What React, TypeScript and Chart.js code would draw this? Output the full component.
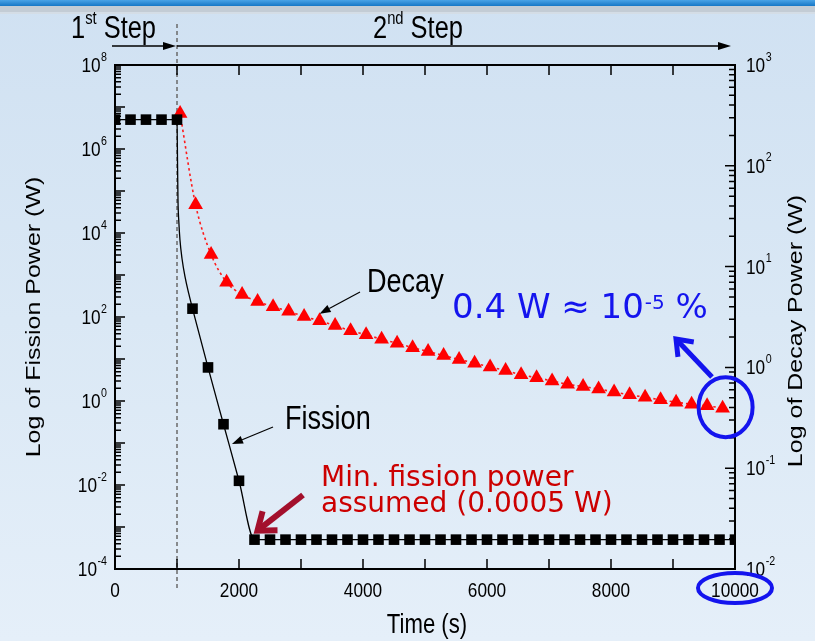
import React, { useEffect, useRef } from "react";
import { Chart, registerables } from "chart.js";
Chart.register(...registerables);

// ---------------- data ----------------
const fissionTimes = [0, 250, 500, 750, 1000, 1250, 1500, 1750, 2000, 2250, 2500, 2750, 3000, 3250, 3500, 3750, 4000, 4250, 4500, 4750, 5000, 5250, 5500, 5750, 6000, 6250, 6500, 6750, 7000, 7250, 7500, 7750, 8000, 8250, 8500, 8750, 9000, 9250, 9500, 9750, 10000];
const fissionPower = [5e6, 5e6, 5e6, 5e6, 5e6, 158, 6.3, 0.28, 0.0126, 5e-4, 5e-4, 5e-4, 5e-4, 5e-4, 5e-4, 5e-4, 5e-4, 5e-4, 5e-4, 5e-4, 5e-4, 5e-4, 5e-4, 5e-4, 5e-4, 5e-4, 5e-4, 5e-4, 5e-4, 5e-4, 5e-4, 5e-4, 5e-4, 5e-4, 5e-4, 5e-4, 5e-4, 5e-4, 5e-4, 5e-4, 5e-4];

const fissionCurveTimes = [0, 1000, 1004, 1008, 1016, 1030, 1048, 1080, 1129, 1190, 1250, 1500, 1750, 2000, 2250, 10000];
const fissionCurvePower = [5e6, 5e6, 2e6, 5.5e5, 6e4, 1.8e4, 6.8e3, 2.5e3, 910, 360, 158, 6.3, 0.28, 0.0126, 5e-4, 5e-4];

const decayTimes = [1050, 1300, 1550, 1800, 2050, 2300, 2550, 2800, 3050, 3300, 3550, 3800, 4050, 4300, 4550, 4800, 5050, 5300, 5550, 5800, 6050, 6300, 6550, 6800, 7050, 7300, 7550, 7800, 8050, 8300, 8550, 8800, 9050, 9300, 9550, 9800];
const decayPower = [330, 41, 13.2, 7.0, 5.3, 4.5, 4.0, 3.6, 3.2, 2.9, 2.6, 2.31, 2.11, 1.9, 1.74, 1.57, 1.44, 1.31, 1.2, 1.1, 1.01, 0.93, 0.845, 0.79, 0.735, 0.68, 0.645, 0.61, 0.57, 0.535, 0.505, 0.477, 0.452, 0.432, 0.416, 0.394];

const xTickLabels = [0, 2000, 4000, 6000, 8000, 10000];
const xTickMarks = [0, 1000, 2000, 3000, 4000, 5000, 6000, 7000, 8000, 9000, 10000];
const leftExponents = [8, 6, 4, 2, 0, -2, -4];
const rightExponents = [3, 2, 1, 0, -1, -2];

const X_MIN = 0, X_MAX = 10000;
const Y_MIN = 1e-4, Y_MAX = 1e8;
const Y2_MIN = 1e-2, Y2_MAX = 1e3;

// ---------------- drawing helpers ----------------
const SANS = '"Liberation Sans", Arial, sans-serif';
const VERD = '"DejaVu Sans", Verdana, sans-serif';
const SQ = 0.82;

function sText(ctx: any, s: string, x: number, y: number, size: number, align: string = "left", color = "#000", sq = SQ, family = SANS) {
  ctx.save();
  ctx.font = `${size}px ${family}`;
  ctx.fillStyle = color;
  ctx.textAlign = align;
  ctx.textBaseline = "alphabetic";
  ctx.translate(x, y);
  ctx.scale(sq, 1);
  ctx.fillText(s, 0, 0);
  ctx.restore();
}
function sWidth(ctx: any, s: string, size: number, sq = SQ, family = SANS) {
  ctx.save();
  ctx.font = `${size}px ${family}`;
  const w = ctx.measureText(s).width * sq;
  ctx.restore();
  return w;
}
function vText(ctx: any, s: string, cx: number, cy: number, size: number) {
  ctx.save();
  ctx.font = `${size}px ${SANS}`;
  ctx.fillStyle = "#000";
  ctx.textAlign = "center";
  ctx.textBaseline = "middle";
  ctx.translate(cx, cy);
  ctx.rotate(-Math.PI / 2);
  ctx.scale(1, SQ);
  ctx.fillText(s, 0, 0);
  ctx.restore();
}
function filledArrow(ctx: any, x1: number, y1: number, x2: number, y2: number, color: string, lw: number, hl: number, hw: number) {
  const a = Math.atan2(y2 - y1, x2 - x1);
  const c = Math.cos(a), s = Math.sin(a);
  const bx = x2 - hl * c, by = y2 - hl * s;
  ctx.save();
  ctx.strokeStyle = color;
  ctx.fillStyle = color;
  ctx.lineWidth = lw;
  ctx.setLineDash([]);
  ctx.beginPath();
  ctx.moveTo(x1, y1);
  ctx.lineTo(bx, by);
  ctx.stroke();
  ctx.beginPath();
  ctx.moveTo(x2, y2);
  ctx.lineTo(bx - hw * s, by + hw * c);
  ctx.lineTo(bx + hw * s, by - hw * c);
  ctx.closePath();
  ctx.fill();
  ctx.restore();
}
function openArrow(ctx: any, x1: number, y1: number, x2: number, y2: number, color: string, lw: number, hl: number) {
  const a = Math.atan2(y2 - y1, x2 - x1);
  ctx.save();
  ctx.strokeStyle = color;
  ctx.lineWidth = lw;
  ctx.lineCap = "butt";
  ctx.lineJoin = "miter";
  ctx.beginPath();
  ctx.moveTo(x1, y1);
  ctx.lineTo(x2 - Math.cos(a) * lw * 0.6, y2 - Math.sin(a) * lw * 0.6);
  ctx.stroke();
  const a1 = a + Math.PI - 0.65, a2 = a + Math.PI + 0.65;
  ctx.beginPath();
  ctx.moveTo(x2 + Math.cos(a1) * hl, y2 + Math.sin(a1) * hl);
  ctx.lineTo(x2, y2);
  ctx.lineTo(x2 + Math.cos(a2) * hl, y2 + Math.sin(a2) * hl);
  ctx.stroke();
  ctx.restore();
}
function logTicks(min: number, max: number) {
  const out: { v: number; major: boolean }[] = [];
  const e0 = Math.round(Math.log10(min));
  const e1 = Math.round(Math.log10(max));
  for (let e = e0; e <= e1; e++) {
    for (let m = 1; m <= 9; m++) {
      const v = m * Math.pow(10, e);
      if (v >= min * 0.999 && v <= max * 1.001) out.push({ v, major: m === 1 });
    }
  }
  return out;
}
function powLabel(ctx: any, exp: number, x: number, y: number, align: "left" | "right") {
  const base = "10";
  const sup = String(exp);
  const bs = 21, ss = 13;
  const wb = sWidth(ctx, base, bs);
  const ws = sWidth(ctx, sup, ss);
  let bx = x;
  if (align === "right") bx = x - ws - wb - 0.5;
  sText(ctx, base, bx, y + 7, bs);
  sText(ctx, sup, bx + wb + 0.5, y - 4.5, ss);
}

// ---------------- plugin ----------------
const decor = {
  id: "decor",
  beforeDraw(chart: any) {
    const ctx = chart.ctx;
    const w = chart.width, h = chart.height;
    ctx.save();
    const g = ctx.createLinearGradient(0, 0, 0, h);
    g.addColorStop(0, "#d0e1f2");
    g.addColorStop(0.5, "#dae8f5");
    g.addColorStop(1, "#e5eff9");
    ctx.fillStyle = g;
    ctx.fillRect(0, 0, w, h);
    const tg = ctx.createLinearGradient(0, 0, 0, 6);
    tg.addColorStop(0, "#4aa3e6");
    tg.addColorStop(1, "#1677c6");
    ctx.fillStyle = tg;
    ctx.fillRect(0, 0, w, 6);
    ctx.fillStyle = "#c3ccd5";
    ctx.fillRect(0, 6, w, 7);
    ctx.fillStyle = "#d4dde6";
    ctx.fillRect(0, 12, w, 2);
    ctx.restore();
  },
  beforeDatasetsDraw(chart: any) {
    const ctx = chart.ctx;
    const xs = chart.scales.x;
    const x = xs.getPixelForValue(1000);
    ctx.save();
    ctx.strokeStyle = "#6a6a6a";
    ctx.lineWidth = 1.5;
    ctx.setLineDash([4, 3]);
    ctx.beginPath();
    ctx.moveTo(x, 24);
    ctx.lineTo(x, 590);
    ctx.stroke();
    ctx.restore();
  },
  afterDatasetsDraw(chart: any) {
    const ctx = chart.ctx;
    const { left, right, top, bottom } = chart.chartArea;
    const xs = chart.scales.x, ys = chart.scales.y, y2 = chart.scales.y2;

    ctx.save();
    ctx.strokeStyle = "#000";
    ctx.lineWidth = 2;
    ctx.setLineDash([]);
    ctx.strokeRect(left, top, right - left, bottom - top);

    // x ticks (inward, top and bottom)
    ctx.lineWidth = 1.5;
    ctx.beginPath();
    xTickMarks.forEach((t) => {
      const px = xs.getPixelForValue(t);
      ctx.moveTo(px, bottom);
      ctx.lineTo(px, bottom - 10);
      ctx.moveTo(px, top);
      ctx.lineTo(px, top + 10);
    });
    // left y ticks
    logTicks(Y_MIN, Y_MAX).forEach((t) => {
      const py = ys.getPixelForValue(t.v);
      ctx.moveTo(left, py);
      ctx.lineTo(left + (t.major ? 10 : 6), py);
    });
    // right y ticks
    logTicks(Y2_MIN, Y2_MAX).forEach((t) => {
      const py = y2.getPixelForValue(t.v);
      ctx.moveTo(right, py);
      ctx.lineTo(right - (t.major ? 10 : 6), py);
    });
    ctx.stroke();
    ctx.restore();

    // tick labels
    xTickLabels.forEach((t) => sText(ctx, String(t), xs.getPixelForValue(t), bottom + 28, 21, "center"));
    leftExponents.forEach((e) => powLabel(ctx, e, left - 8, ys.getPixelForValue(Math.pow(10, e)), "right"));
    rightExponents.forEach((e) => powLabel(ctx, e, right + 11, y2.getPixelForValue(Math.pow(10, e)), "left"));

    // axis titles
    vText(ctx, "Log of Fission Power (W)", 34, (top + bottom) / 2, 25);
    vText(ctx, "Log of Decay Power (W)", 796, 331, 25);
    sText(ctx, "Time (s)", (left + right) / 2 + 2, 633, 27, "center");

    // step labels and arrows
    const x1000 = xs.getPixelForValue(1000);
    let sx = 71;
    sText(ctx, "1", sx, 38, 31);
    sx += sWidth(ctx, "1", 31);
    sText(ctx, "st", sx, 24, 18);
    sx += sWidth(ctx, "st", 18) + sWidth(ctx, " ", 31);
    sText(ctx, "Step", sx, 38, 31);
    let tx = 373;
    sText(ctx, "2", tx, 38, 31);
    tx += sWidth(ctx, "2", 31);
    sText(ctx, "nd", tx, 24, 18);
    tx += sWidth(ctx, "nd", 18) + sWidth(ctx, " ", 31);
    sText(ctx, "Step", tx, 38, 31);
    filledArrow(ctx, left - 3, 46, x1000 - 1, 46, "#000", 1.5, 13, 4);
    filledArrow(ctx, x1000, 46, right - 4, 46, "#000", 1.5, 13, 4);

    // series labels
    sText(ctx, "Decay", 367, 292, 33);
    filledArrow(ctx, 360, 292, xs.getPixelForValue(3300), y2.getPixelForValue(2.9) - 7, "#000", 1.2, 11, 4);
    sText(ctx, "Fission", 285, 429, 33);
    filledArrow(ctx, 273, 427, 232, 444, "#000", 1.2, 11, 4);

    // minimum fission power note
    sText(ctx, "Min. fission power", 321, 486, 28, "left", "#cc0000", 1, VERD);
    sText(ctx, "assumed (0.0005 W)", 321, 512, 28, "left", "#cc0000", 1, VERD);
    openArrow(ctx, 303, 495, xs.getPixelForValue(2250) + 3, ys.getPixelForValue(5e-4) - 9, "#a3102c", 6, 20);

    // blue note
    const blue = "#1414ee";
    let bx = 452;
    sText(ctx, "0.4 W \u2248 10", bx, 318, 34, "left", blue, 1, VERD);
    bx += sWidth(ctx, "0.4 W \u2248 10", 34, 1, VERD) + 1;
    sText(ctx, "-5", bx, 309, 20, "left", blue, 1, VERD);
    bx += sWidth(ctx, "-5", 20, 1, VERD);
    sText(ctx, " %", bx, 318, 34, "left", blue, 1, VERD);
    openArrow(ctx, 712, 377, 676, 339, blue, 5, 18);

    ctx.save();
    ctx.strokeStyle = blue;
    ctx.lineWidth = 4;
    ctx.beginPath();
    ctx.ellipse(xs.getPixelForValue(9800) + 3, y2.getPixelForValue(0.394) - 1, 27, 30, 0, 0, Math.PI * 2);
    ctx.stroke();
    ctx.beginPath();
    ctx.ellipse(xs.getPixelForValue(10000), bottom + 19, 37, 15, 0, 0, Math.PI * 2);
    ctx.stroke();
    ctx.restore();
  },
};

export default function App() {
  const ref = useRef<HTMLCanvasElement | null>(null);
  useEffect(() => {
    if (!ref.current) return;
    const chart = new Chart(ref.current, {
      type: "line",
      data: {
        datasets: [
          {
            label: "Fission",
            data: fissionTimes.map((t, i) => ({ x: t, y: fissionPower[i] })),
            showLine: false,
            pointStyle: "rect",
            pointRadius: 7.5,
            pointBackgroundColor: "#000",
            pointBorderColor: "#000",
            pointBorderWidth: 0,
            yAxisID: "y",
            clip: 0,
          } as any,
          {
            label: "Decay",
            data: decayTimes.map((t, i) => ({ x: t, y: decayPower[i] })),
            borderColor: "#ff1a1a",
            borderWidth: 1.6,
            borderDash: [2.5, 3],
            cubicInterpolationMode: "monotone",
            pointStyle: "triangle",
            pointRadius: 8.5,
            pointBackgroundColor: "#ff0000",
            pointBorderColor: "#ff0000",
            pointBorderWidth: 0,
            yAxisID: "y2",
            clip: 0,
          } as any,
          {
            label: "Fission curve",
            data: fissionCurveTimes.map((t, i) => ({ x: t, y: fissionCurvePower[i] })),
            borderColor: "#000",
            borderWidth: 1.3,
            pointRadius: 0,
            cubicInterpolationMode: "monotone",
            yAxisID: "y",
            clip: 0,
          } as any,
        ],
      },
      options: {
        responsive: false,
        animation: false,
        devicePixelRatio: 1,
        layout: { padding: { top: 65, left: 0, right: 0, bottom: 0 } },
        plugins: { legend: { display: false }, tooltip: { enabled: false } },
        scales: {
          x: {
            type: "linear",
            min: X_MIN,
            max: X_MAX,
            position: "bottom",
            grid: { display: false },
            border: { display: false },
            ticks: { display: false },
            afterFit: (s: any) => { s.height = 72; },
          },
          y: {
            type: "logarithmic",
            min: Y_MIN,
            max: Y_MAX,
            position: "left",
            grid: { display: false },
            border: { display: false },
            ticks: { display: false },
            afterFit: (s: any) => { s.width = 115; },
          },
          y2: {
            type: "logarithmic",
            min: Y2_MIN,
            max: Y2_MAX,
            position: "right",
            grid: { display: false },
            border: { display: false },
            ticks: { display: false },
            afterFit: (s: any) => { s.width = 80; },
          },
        },
      } as any,
      plugins: [decor as any],
    });
    return () => chart.destroy();
  }, []);
  return (
    <div style={{ position: "fixed", left: 0, top: 0, width: 815, height: 641 }}>
      <canvas ref={ref} width={815} height={641} style={{ display: "block" }} />
    </div>
  );
}
